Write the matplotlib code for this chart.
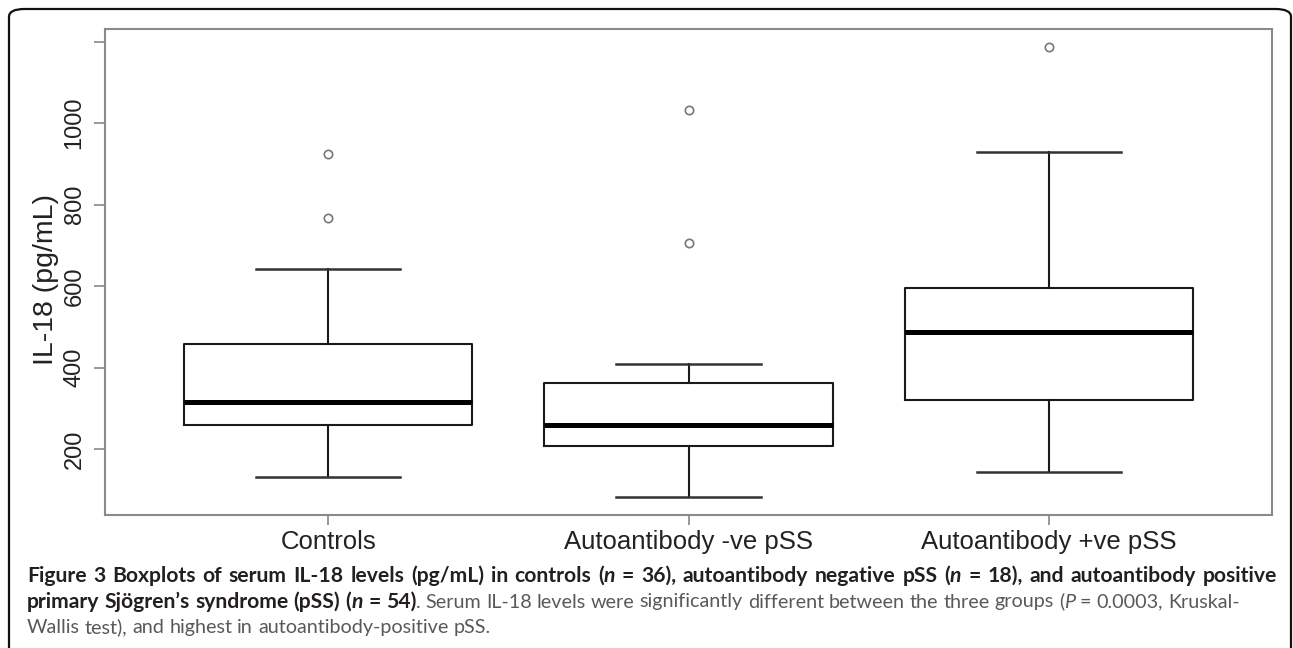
import matplotlib
matplotlib.use('Agg')
import matplotlib.pyplot as plt
from matplotlib.patches import FancyBboxPatch

groups = ['Controls', 'Autoantibody -ve pSS', 'Autoantibody +ve pSS']
whisker_low = [131, 83, 143]
q1 = [259, 208, 320]
median = [316, 259, 486]
q3 = [458, 361, 594]
whisker_high = [643, 408, 930]
outliers = [[768, 924], [705, 1032], [1186]]
yticks = [200, 400, 600, 800, 1000, 1200]
ytick_labels = ['200', '400', '600', '800', '1000', '']

caption = [
    [('Figure 3 Boxplots of serum IL-18 levels (pg/mL) in controls (', 'b'), ('n', 'bi'),
     (' = 36), autoantibody negative pSS (', 'b'), ('n', 'bi'), (' = 18), and autoantibody positive', 'b')],
    [('primary Sjögren\u2019s syndrome (pSS) (', 'b'), ('n', 'bi'), (' = 54)', 'b'),
     ('. Serum IL-18 levels were significantly different between the three groups (', 'r'), ('P', 'i'),
     (' = 0.0003, Kruskal-', 'r')],
    [('Wallis test), and highest in autoantibody-positive pSS.', 'r')],
]

CHART_FONT = ['Liberation Sans', 'DejaVu Sans']
CAP_FONT = ['Lato', 'DejaVu Sans']
STYLES = {
    'b': dict(fontsize=15.2, fontweight='bold', fontstyle='normal', color='#231f20'),
    'bi': dict(fontsize=15.2, fontweight='bold', fontstyle='italic', color='#231f20'),
    'r': dict(fontsize=14.2, fontweight='normal', fontstyle='normal', color='#58595b'),
    'i': dict(fontsize=14.2, fontweight='normal', fontstyle='italic', color='#58595b'),
}

W, H = 1293, 648
fig = plt.figure(figsize=(W / 100, H / 100), dpi=100)

# rounded frame round the whole figure (bottom edge runs off the image)
frame = FancyBboxPatch((9 / W, -40 / H), 1282 / W, 679 / H,
                       boxstyle='round,pad=0,rounding_size=0.012',
                       transform=fig.transFigure, fill=False, ec='#111111', lw=1.6)
fig.patches.append(frame)

ax = fig.add_axes([105 / W, 1 - 515 / H, (1272 - 105) / W, (515 - 29) / H])

stats = []
for i, g in enumerate(groups):
    stats.append(dict(label=g, whislo=whisker_low[i], q1=q1[i], med=median[i],
                      q3=q3[i], whishi=whisker_high[i], fliers=outliers[i]))

ax.bxp(stats, positions=[1, 2, 3], widths=0.8, showfliers=True, patch_artist=False,
       boxprops=dict(color='#1a1a1a', lw=1.5),
       medianprops=dict(color='black', lw=3.6, solid_capstyle='butt'),
       whiskerprops=dict(color='#1a1a1a', lw=1.5),
       capprops=dict(color='#333333', lw=1.8),
       capwidths=0.4,
       flierprops=dict(marker='o', markersize=6, markerfacecolor='white',
                       markeredgecolor='#777777', markeredgewidth=1.2, linestyle='none'))

ax.set_xlim(0.38, 3.62)
ax.set_ylim(38, 1231)
ax.set_xticks([1, 2, 3])
ax.set_xticklabels(groups, family=CHART_FONT, fontsize=18.5, color='#222222')
ax.set_yticks(yticks)
ax.set_yticklabels(ytick_labels, family=CHART_FONT, fontsize=17, color='#222222',
                   rotation=90, va='center')
ax.tick_params(axis='y', length=8, width=1.2, color='#888888', pad=6)
ax.tick_params(axis='x', length=7, width=1.2, color='#888888', pad=4)
for s in ax.spines.values():
    s.set_color('#8a8a8a')
    s.set_linewidth(1.5)
ax.set_ylabel('IL-18 (pg/mL)', family=CHART_FONT, fontsize=20.5, color='#222222')
ax.yaxis.set_label_coords((46 - 105) / (1272 - 105), 0.484)
ax.yaxis.label.set_va('center')


def draw_caption(lines, x0, y0, step, justify_width):
    renderer = fig.canvas.get_renderer()
    for li, line in enumerate(lines):
        words = [[]]
        for text, st in line:
            parts = text.split(' ')
            for k, p in enumerate(parts):
                if k > 0:
                    words.append([])
                if p:
                    words[-1].append((p, st))
        words = [w for w in words if w]
        y = y0 - li * step
        placed = []
        for w in words:
            segs = []
            for p, st in w:
                t = fig.text(0, y, p, family=CAP_FONT, transform=None, va='baseline',
                             ha='left', **STYLES[st])
                wid = t.get_window_extent(renderer).width
                segs.append((t, wid))
            placed.append(segs)
        widths = [sum(s[1] for s in segs) for segs in placed]
        gaps = []
        for w in words[1:]:
            gaps.append(STYLES[w[0][1]]['fontsize'] * 0.25 * 100 / 72)
        if li == 0 and len(widths) > 1:
            g = (justify_width - sum(widths)) / (len(widths) - 1)
            gaps = [g] * (len(widths) - 1)
        x = x0
        for k, segs in enumerate(placed):
            for t, wid in segs:
                t.set_x(x)
                x += wid
            if k < len(gaps):
                x += gaps[k]


draw_caption(caption, 27, H - 582, 25.5, 1250)

fig.savefig('out.png', dpi=100)
